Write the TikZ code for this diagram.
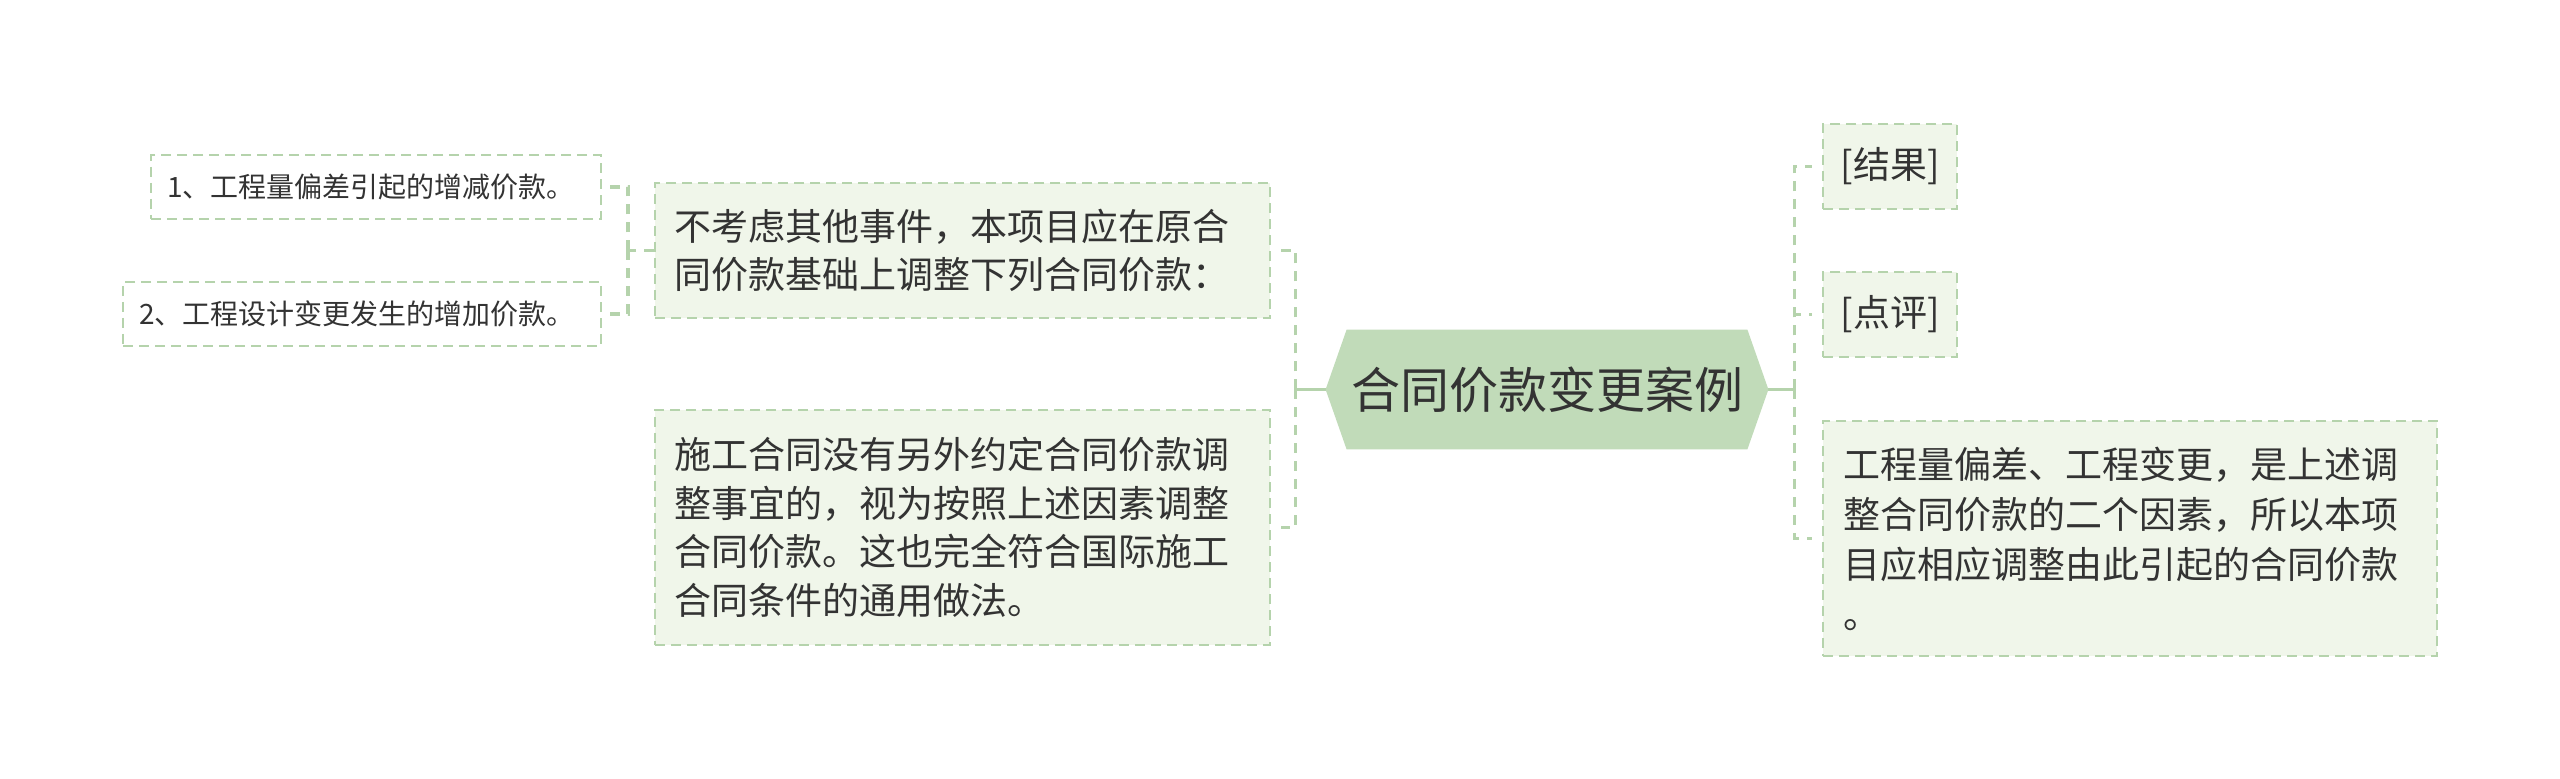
\documentclass[tikz,border=0pt]{standalone}
\usepackage{fontspec}
\setmainfont{Noto Sans CJK SC}
\usetikzlibrary{positioning,calc,backgrounds}
\definecolor{colorRT}{RGB}{193,219,185}
\definecolor{colorBX}{RGB}{240,246,234}
\definecolor{colorLN}{RGB}{181,211,172}
\definecolor{colorTX}{RGB}{51,51,51}
\tikzset{
   every node/.style={text=colorTX},
   rt/.style={inner sep=0pt,minimum width=221pt,minimum height=59.5pt,font=\fontsize{24.5}{30}\selectfont},
   bx/.style={draw=colorLN,fill=colorBX,line width=1pt,dash pattern=on 5pt off 3pt,inner ysep=0pt},
   big/.style={bx,text width=288.5pt,inner xsep=9.5pt,minimum height=#1,align=left,font=\fontsize{18.5}{24.2}\selectfont},
   tag/.style={bx,inner xsep=0pt,minimum width=67pt,minimum height=42.5pt,font=\fontsize{18.5}{24}\selectfont},
   sm/.style={bx,fill=white,text width=#1,inner xsep=8pt,minimum height=32pt,align=left,font=\fontsize{14}{18}\selectfont},
   lk/.style={color=colorLN,line width=1.6pt,dash pattern=on 5pt off 4pt},
   stem/.style={color=colorLN,line width=1.8pt},
}

\begin{document}
\begin{tikzpicture}[x=0.5pt,y=-0.5pt]
      \useasboundingbox (0,0) rectangle (2560,779);

      \node[rt] (root) at (1547,389.5) {合同价款变更案例};
      \begin{scope}[on background layer]
        \fill[colorRT] (root.west) -- ($(root.north west)+(10.5pt,0)$)
          -- ($(root.north east)+(-10.5pt,0)$) -- (root.east)
          -- ($(root.south east)+(-10.5pt,0)$) -- ($(root.south west)+(10.5pt,0)$) -- cycle;
      \end{scope}

      % left branch
      \node[big=67.5pt] (lt1) at (962.5,250.5)
        {不考虑其他事件，本项目应在原合\\同价款基础上调整下列合同价款：};
      \node[big=117.5pt] (lt2) at (962.5,527.5)
        {施工合同没有另外约定合同价款调\\整事宜的，视为按照上述因素调整\\合同价款。这也完全符合国际施工\\合同条件的通用做法。};

      \node[sm=209pt,anchor=east] (ls1) at (602,187) {1、工程量偏差引起的增减价款。};
      \node[sm=223pt,anchor=east] (ls2) at (602,314) {2、工程设计变更发生的增加价款。};

      % right branch
      \node[tag,anchor=west] (rt1) at (1822,166.5) {[结果]};
      \node[tag,anchor=west] (rt2) at (1822,314.5) {[点评]};
      \node[big=117.5pt,anchor=west,inner xsep=10pt,text width=287pt,
            font=\fontsize{18.5}{25}\selectfont] (rt3) at (1822,538.5)
        {工程量偏差、工程变更，是上述调\\整合同价款的二个因素，所以本项\\目应相应调整由此引起的合同价款\\。};

      \coordinate (lj) at ($(root.west)+(-15pt,0)$);
      \draw[stem] (root.west) -- (lj);
      \draw[lk,shorten >=5pt] (lj) |- (lt1.east);
      \draw[lk,shorten >=5pt] (lj) |- (lt2.east);

      \coordinate (sj) at ($(lt1.west)+(-13pt,0)$);
      \draw[lk] (lt1.west) -- (sj);
      \draw[lk,shorten >=2.5pt] (sj) |- (ls1.east);
      \draw[lk,shorten >=2.5pt] (sj) |- (ls2.east);

      \coordinate (rj) at ($(root.east)+(13pt,0)$);
      \draw[stem] (root.east) -- (rj);
      \draw[lk,shorten >=5pt] (rj) |- (rt1.west);
      \draw[lk,shorten >=5pt] (rj) |- (rt2.west);
      \draw[lk,shorten >=5pt] (rj) |- (rt3.west);
\end{tikzpicture}
\end{document}
